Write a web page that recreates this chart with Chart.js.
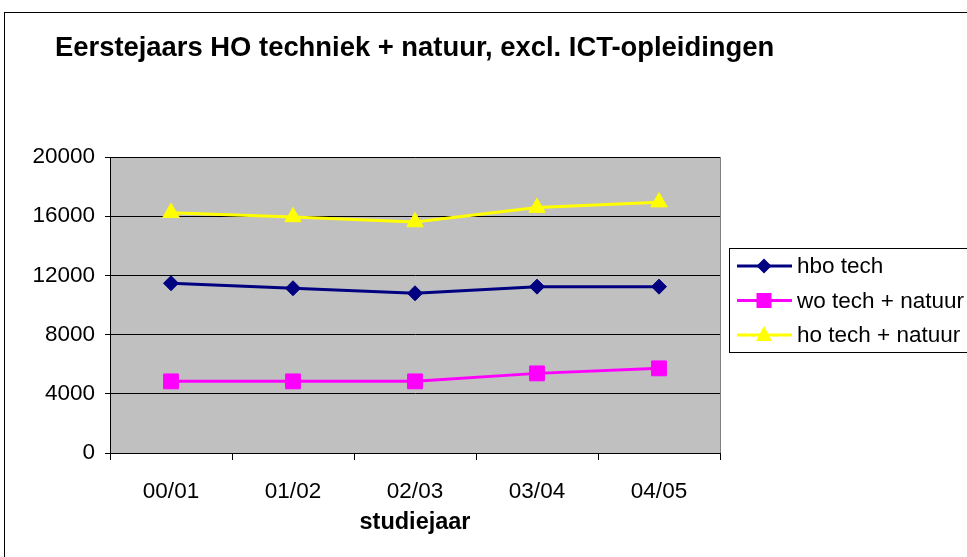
<!DOCTYPE html>
<html>
<head>
<meta charset="utf-8">
<script src="https://cdn.jsdelivr.net/npm/chart.js@4/dist/chart.umd.min.js"></script>
<style>
  html, body { margin: 0; padding: 0; background: #fff; }
  #wrap { width: 967px; height: 557px; }
</style>
</head>
<body>
<div id="wrap"><canvas id="myChart" width="967" height="557"></canvas></div>
<script>
let years = ["00/01", "01/02", "02/03", "03/04", "04/05"];
let hboTech = [11470, 11130, 10790, 11240, 11240];
let woTech = [4840, 4840, 4840, 5380, 5720];
let hoTech = [16240, 15950, 15610, 16580, 16950];
let yTicks = [0, 4000, 8000, 12000, 16000, 20000];

let font = "Arial, 'Liberation Sans', sans-serif";

let series = [
  { label: "hbo tech", data: hboTech, color: "#000080", point: "rectRot", radius: 7.5 },
  { label: "wo tech + natuur", data: woTech, color: "#FF00FF", point: "rect", radius: 10.5 },
  { label: "ho tech + natuur", data: hoTech, color: "#FFFF00", point: "triangle", radius: 9.5 },
];

// frame, grey plot area, title and legend box
let decor = {
  id: "decor",
  beforeDraw(chart) {
    let c = chart.ctx, a = chart.chartArea;
    c.save();
    c.fillStyle = "#C0C0C0";
    c.fillRect(a.left, a.top, a.right - a.left, a.bottom - a.top);
    c.strokeStyle = "#808080";
    c.lineWidth = 1;
    c.strokeRect(a.left + 0.5, a.top + 0.5, a.right - a.left, a.bottom - a.top);
    c.strokeStyle = "#000";
    c.strokeRect(4.5, 12.5, 1100, 700);
    c.restore();
  },
  afterDraw(chart) {
    let c = chart.ctx;
    c.save();
    c.fillStyle = "#000";
    c.font = "bold 27.4px " + font;
    c.textBaseline = "middle";
    c.fillText("Eerstejaars HO techniek + natuur, excl. ICT-opleidingen", 55, 48);

    c.strokeStyle = "#000";
    c.lineWidth = 1;
    c.strokeRect(729.5, 248.5, 400, 104);
    c.font = "22.5px " + font;
    series.forEach((s, i) => {
      let y = 266 + i * 34.5;
      c.strokeStyle = s.color;
      c.lineWidth = 3;
      c.beginPath();
      c.moveTo(737, y);
      c.lineTo(792, y);
      c.stroke();
      c.fillStyle = s.color;
      c.beginPath();
      if (s.point === "rectRot") {
        c.moveTo(764, y - 7.5); c.lineTo(771.5, y); c.lineTo(764, y + 7.5); c.lineTo(756.5, y);
      } else if (s.point === "rect") {
        c.rect(756.5, y - 7.5, 15, 15);
      } else {
        c.moveTo(764, y - 9); c.lineTo(772, y + 6); c.lineTo(756, y + 6);
      }
      c.closePath();
      c.fill();
      c.fillStyle = "#000";
      c.fillText(s.label, 797, y + 1);
    });
    c.restore();
  },
};

let ctx = document.getElementById("myChart");

let myChart = new Chart(ctx, {
  type: "line",
  data: {
    labels: years,
    datasets: series.map((s) => ({
      label: s.label,
      data: s.data,
      borderColor: s.color,
      backgroundColor: s.color,
      borderWidth: 3,
      pointStyle: s.point,
      pointRadius: s.radius,
      pointHoverRadius: s.radius,
      pointBorderWidth: 1,
      tension: 0,
      fill: false,
    })),
  },
  options: {
    responsive: false,
    animation: false,
    devicePixelRatio: 1,
    layout: { padding: { top: 157, right: 247, bottom: 10, left: 10 } },
    plugins: {
      legend: { display: false },
      title: { display: false },
      tooltip: { enabled: false },
    },
    scales: {
      x: {
        offset: true,
        grid: { offset: true, drawOnChartArea: false, drawTicks: true, tickLength: 7, color: "#000" },
        border: { color: "#000", width: 1 },
        ticks: { color: "#000", font: { family: font, size: 22.5 }, padding: 18 },
        title: {
          display: true,
          text: "studiejaar",
          color: "#000",
          font: { family: font, size: 23.5, weight: "bold" },
          padding: { top: 0, bottom: 10 },
        },
        afterFit: (s) => { s.height = 94; },
      },
      y: {
        min: 0,
        max: 20000,
        afterBuildTicks: (s) => { s.ticks = yTicks.map((v) => ({ value: v })); },
        grid: { color: "#000", drawTicks: true, tickLength: 5 },
        border: { color: "#000", width: 1 },
        ticks: {
          color: "#000",
          font: { family: font, size: 22.5 },
          padding: 10,
          callback: (v) => String(v),
        },
        afterFit: (s) => { s.width = 100; },
      },
    },
  },
  plugins: [decor],
});
</script>
</body>
</html>
